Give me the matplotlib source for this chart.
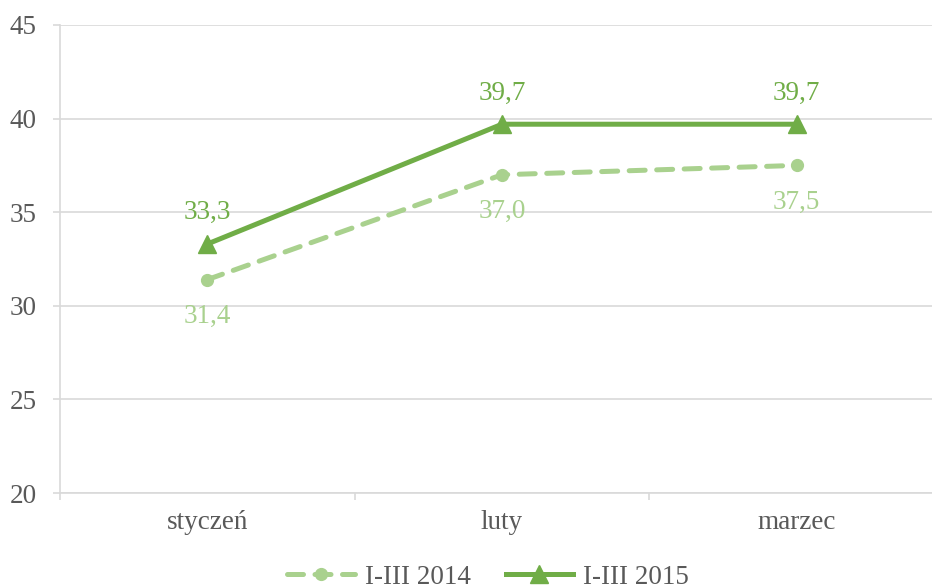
import matplotlib.pyplot as plt
import matplotlib.ticker as mticker

# dane
miesiace = ['styczeń', 'luty', 'marzec']
wartosci_2014 = [31.4, 37.0, 37.5]
wartosci_2015 = [33.3, 39.7, 39.7]
etykiety_serii = ['I-III 2014', 'I-III 2015']

plt.rcParams['font.family'] = ['Liberation Serif', 'DejaVu Serif']

kolor_2014 = '#A9D18E'
kolor_2015 = '#70AD47'
szary = '#595959'
siatka = '#D9D9D9'
rozmiar = 19.5

fig = plt.figure(figsize=(9.32, 5.88), dpi=100)
ax = fig.add_axes([60 / 932, 1 - 493 / 588, 884 / 932, (493 - 25) / 588])

x = range(len(miesiace))
ax.plot(x, wartosci_2014, color=kolor_2014, lw=3.6, ls=(0, (3.2, 2.3)),
        dash_capstyle='round', marker='o', ms=8.5, label=etykiety_serii[0], zorder=3)
ax.plot(x, wartosci_2015, color=kolor_2015, lw=3.6,
        marker='^', ms=13, label=etykiety_serii[1], zorder=4)

# etykiety danych: 2014 pod punktami, 2015 nad punktami
for i, v in enumerate(wartosci_2014):
    ax.annotate(f'{v:.1f}'.replace('.', ','), (i, v), xytext=(0, -17.5),
                textcoords='offset points', ha='center', va='top',
                color=kolor_2014, fontsize=rozmiar)
for i, v in enumerate(wartosci_2015):
    ax.annotate(f'{v:.1f}'.replace('.', ','), (i, v), xytext=(0, 13.5),
                textcoords='offset points', ha='center', va='bottom',
                color=kolor_2015, fontsize=rozmiar)

ax.set_xlim(-0.5, 2.5)
ax.set_ylim(20, 45)
ax.yaxis.set_major_locator(mticker.MultipleLocator(5))
ax.set_xticks(list(x))
ax.set_xticklabels(miesiace)
ax.set_xticks([-0.5, 0.5, 1.5, 2.5], minor=True)
ax.tick_params(axis='x', which='major', length=0, pad=12, labelsize=rozmiar, labelcolor=szary)
ax.tick_params(axis='x', which='minor', length=5, color=siatka, width=1.2)
ax.tick_params(axis='y', length=5, color=siatka, width=1.2, pad=12,
               labelsize=rozmiar, labelcolor=szary)

ax.grid(axis='y', color=siatka, lw=1.2)
ax.set_axisbelow(True)
for s in ['top', 'right']:
    ax.spines[s].set_visible(False)
ax.spines['left'].set_color(siatka)
ax.spines['bottom'].set_color(siatka)
ax.spines['left'].set_linewidth(1.2)
ax.spines['bottom'].set_linewidth(1.2)

fig.legend(loc='center', bbox_to_anchor=(488 / 932, 1 - 577 / 588), ncol=2,
           frameon=False, fontsize=rozmiar, handlelength=2.5, columnspacing=1.3,
           handletextpad=0.35, labelcolor=szary)

fig.savefig('out.png', dpi=100)
